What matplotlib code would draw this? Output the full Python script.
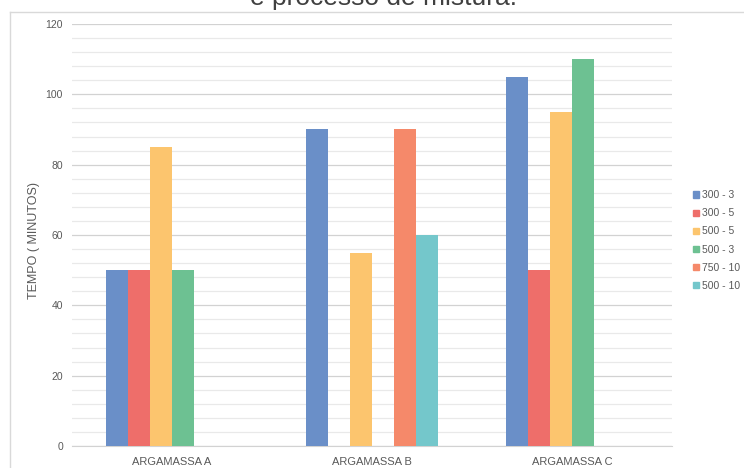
import numpy as np
import matplotlib

matplotlib.use("Agg")
import matplotlib.pyplot as plt
from matplotlib.lines import Line2D
from matplotlib.ticker import MultipleLocator

plt.rcParams["font.family"] = ["Liberation Sans", "DejaVu Sans"]

CATEGORIES = ["ARGAMASSA A", "ARGAMASSA B", "ARGAMASSA C"]
SERIES = ["300 - 3", "300 - 5", "500 - 5", "500 - 3", "750 - 10", "500 - 10"]
COLORS = ["#6A8FC8", "#EE6E6A", "#FCC56E", "#6DC192", "#F5896A", "#74C7CB"]
NAN = np.nan
S_300_3 = [50, 90, 105]
S_300_5 = [50, NAN, 50]
S_500_5 = [85, 55, 95]
S_500_3 = [50, NAN, 110]
S_750_10 = [NAN, 90, NAN]
S_500_10 = [NAN, 60, NAN]
VALUES = [S_300_3, S_300_5, S_500_5, S_500_3, S_750_10, S_500_10]
TITLE_TAIL = "e processo de mistura."
Y_LABEL = "TEMPO ( MINUTOS)"

W, H = 744, 468
fig = plt.figure(figsize=(W / 100, H / 100), dpi=100)
ax = fig.add_axes([72 / W, 1 - 446 / H, 600 / W, 422 / H])

x = np.arange(len(CATEGORIES))
width = 0.11
handles = []
for i, (name, vals, color) in enumerate(zip(SERIES, VALUES, COLORS)):
    offset = (i - (len(SERIES) - 1) / 2) * width
    heights = np.asarray(vals, dtype=float)
    ax.bar(x + offset, np.nan_to_num(heights), width, color=color, zorder=3,
           edgecolor="none")
    handles.append(plt.Rectangle((0, 0), 1, 1, color=color))

ax.set_xlim(-0.5, len(CATEGORIES) - 0.5)
ax.set_ylim(0, 120)
ax.yaxis.set_major_locator(MultipleLocator(20))
ax.yaxis.set_minor_locator(MultipleLocator(4))
ax.grid(axis="y", which="major", color="#D2D2D2", linewidth=0.9, zorder=0)
ax.grid(axis="y", which="minor", color="#E9E9E9", linewidth=0.9, zorder=0)
ax.set_xticks(x)
ax.set_xticklabels(CATEGORIES)
ax.tick_params(axis="x", length=0, pad=8, labelsize=8, labelcolor="#595959")
ax.tick_params(axis="y", which="both", length=0, pad=6.5, labelsize=7.5,
               labelcolor="#595959")
for side in ("top", "right", "left"):
    ax.spines[side].set_visible(False)
ax.spines["bottom"].set_color("#D2D2D2")
ax.set_ylabel(Y_LABEL, fontsize=9, color="#595959")
ax.yaxis.set_label_coords((40 - 72) / 600, (446 - 241) / 422)

ax.legend(handles, SERIES, loc="upper left", bbox_to_anchor=(688 / W, 1 - 185 / H),
          bbox_transform=fig.transFigure, frameon=False, fontsize=7.5,
          handlelength=0.55, handleheight=0.55, handletextpad=0.25,
          labelspacing=0.78, borderpad=0, labelcolor="#595959")

# chart border (cut by the image edges)
fig.add_artist(Line2D([10 / W, 10 / W], [-0.1, 1 - 12 / H], color="#D9D9D9",
                      linewidth=1, transform=fig.transFigure))
fig.add_artist(Line2D([10 / W, 1.1], [1 - 12 / H, 1 - 12 / H], color="#D9D9D9",
                      linewidth=1, transform=fig.transFigure))

# title is cut off by the top edge in the source image
fig.text(383 / W, 1 - 5 / H, TITLE_TAIL, ha="center", va="baseline",
         fontsize=19, color="#404040")

fig.savefig("out.png", dpi=100)
